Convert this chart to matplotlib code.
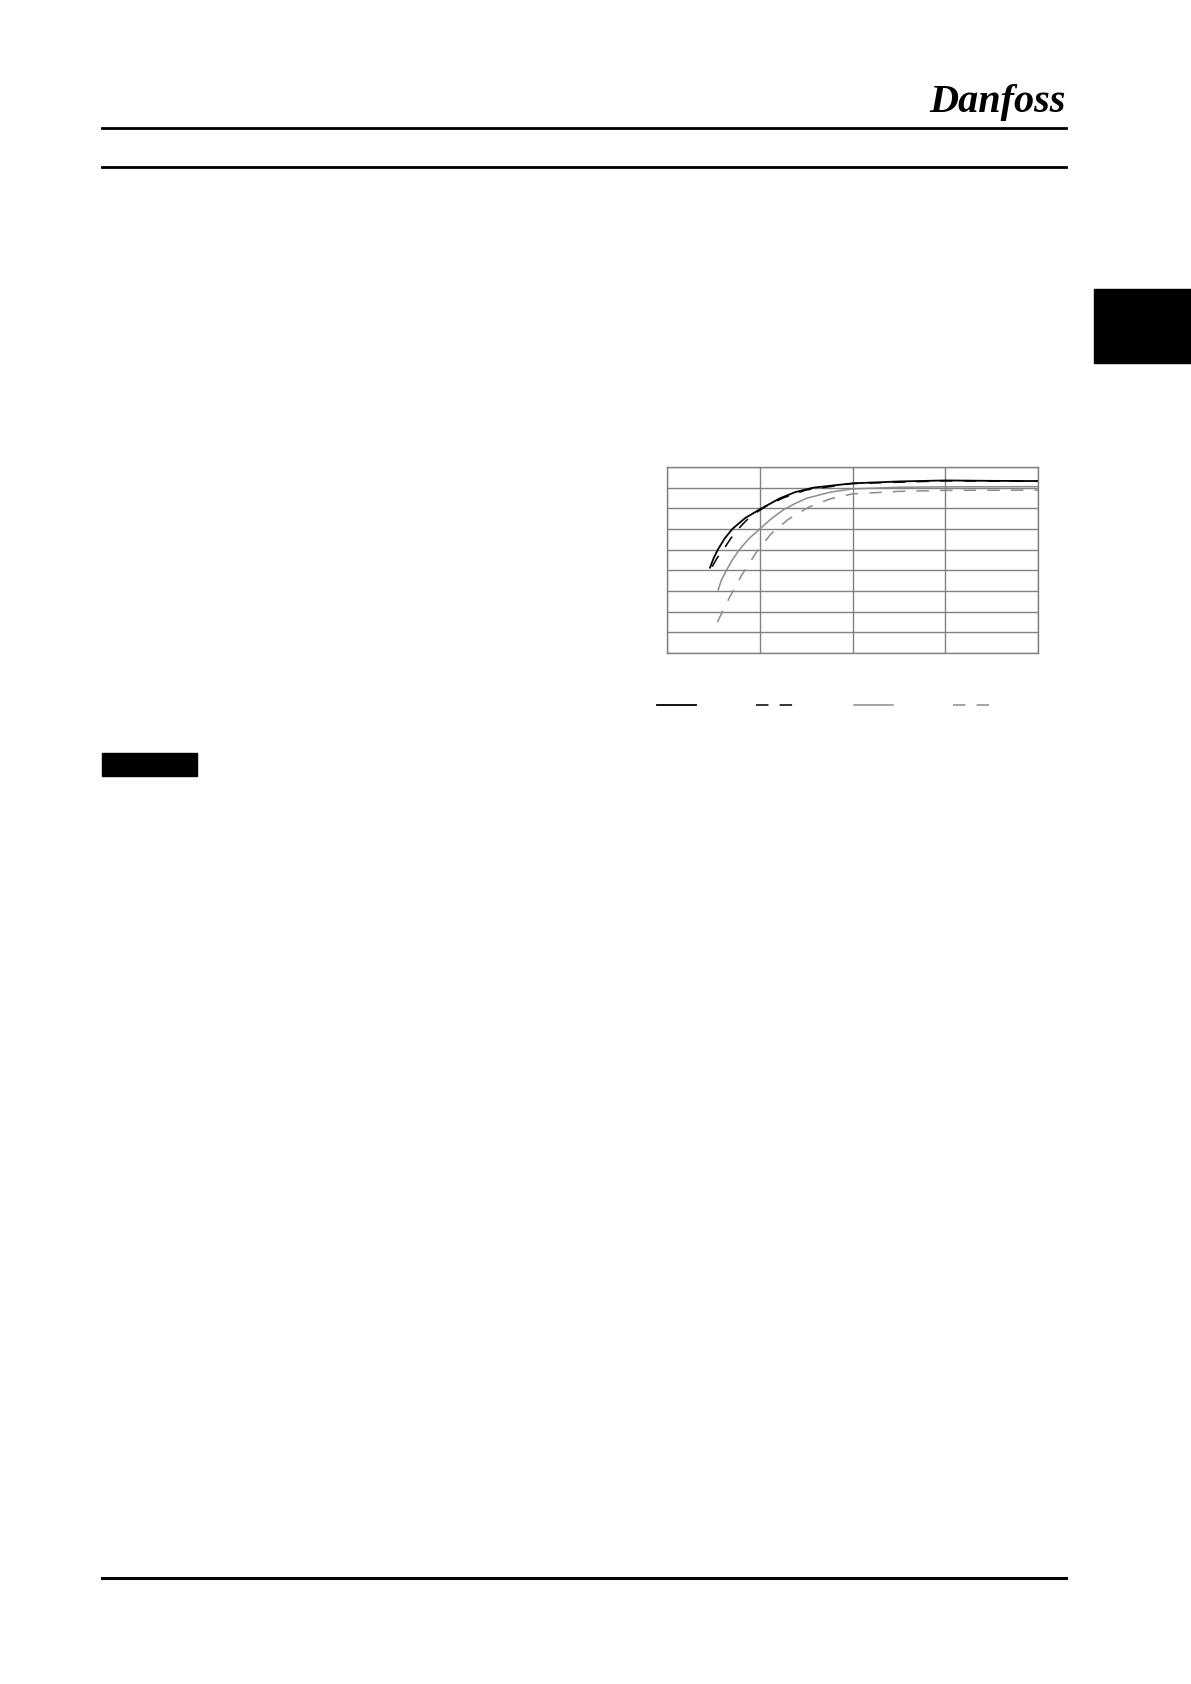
import matplotlib
matplotlib.use('Agg')
import matplotlib.pyplot as plt
from matplotlib.lines import Line2D
from matplotlib.patches import Rectangle

# page size in pixels (dpi 100)
W, H = 1191, 1684

# curve data (x = speed %, y = efficiency %)
black_solid_x = [11.6, 12.6, 13.7, 15.5, 17.6, 21.0, 25.0, 30.5, 34.5, 39.4, 50.0, 62.5, 75.0, 87.5, 100.0]
black_solid_y = [51.3, 56.0, 60.0, 65.3, 70.0, 75.2, 79.5, 84.9, 87.8, 90.0, 92.1, 93.0, 93.5, 93.3, 93.2]

black_dash_x = [12.2, 13.5, 15.2, 17.1, 19.2, 21.3, 23.5, 26.5, 31.25, 37.5, 50.0, 75.0, 100.0]
black_dash_y = [51.8, 56.0, 60.0, 65.2, 70.0, 74.0, 77.3, 80.8, 85.0, 88.9, 92.0, 93.3, 93.1]

gray_solid_x = [13.8, 14.6, 16.0, 17.6, 19.5, 22.0, 25.0, 28.0, 31.3, 34.5, 37.7, 43.9, 50.0, 62.5, 75.0, 100.0]
gray_solid_y = [40.5, 45.0, 50.0, 55.0, 60.0, 65.2, 70.0, 74.8, 79.2, 82.3, 84.9, 87.8, 89.4, 90.2, 90.4, 90.5]

gray_dash_x = [13.6, 16.3, 19.9, 24.2, 28.0, 32.7, 38.1, 44.0, 50.0, 62.5, 75.0, 100.0]
gray_dash_y = [25.0, 35.0, 47.0, 59.0, 67.6, 74.7, 80.5, 84.6, 87.0, 88.2, 88.7, 88.8]

x_ticks = [0, 25, 50, 75, 100]
y_ticks = [10, 20, 30, 40, 50, 60, 70, 80, 90, 100]

plt.rcParams['lines.scale_dashes'] = False

fig = plt.figure(figsize=(W / 100, H / 100), dpi=100)
fig.patch.set_facecolor('white')


def fx(px):
        return px / W


def fy(py):
        return 1 - py / H


# page header / footer rules
for y in [128, 167]:
        fig.add_artist(Line2D([fx(102), fx(1066)], [fy(y), fy(y)], color='black', lw=2.0))
fig.add_artist(Line2D([fx(102), fx(1066)], [fy(1578), fy(1578)], color='black', lw=2.2))

# logo
fig.text(fx(1066), fy(112), 'Danfoss', ha='right', va='baseline', fontsize=29,
         family='Liberation Serif', fontstyle='italic', fontweight='bold')

# chapter tab on the right edge and the black label box
fig.add_artist(Rectangle((fx(1094), fy(363)), fx(97), 74 / H, color='black'))
fig.add_artist(Rectangle((fx(102), fy(776)), fx(95), 23 / H, color='black'))

# chart
ax = fig.add_axes([fx(667), fy(653), fx(371), 186 / H])
grid_col = '#808080'
curve_gray = '#8c8c8c'
ax.plot(gray_solid_x, gray_solid_y, color=curve_gray, lw=1.1, label=' ')
ax.plot(gray_dash_x, gray_dash_y, color=curve_gray, lw=1.1, dashes=(9, 8), label=' ')
ax.plot(black_dash_x, black_dash_y, color='black', lw=1.1, dashes=(9, 8), label=' ')
ax.plot(black_solid_x, black_solid_y, color='black', lw=1.3, label=' ')

ax.set_xlim(0, 100)
ax.set_ylim(10, 100)
ax.set_xticks(x_ticks)
ax.set_yticks(y_ticks)
ax.grid(True, color=grid_col, lw=1.0)
ax.set_axisbelow(True)
ax.tick_params(length=0, labelbottom=False, labelleft=False)
for s in ax.spines.values():
        s.set_color(grid_col)
        s.set_linewidth(1.0)

# legend row under the chart (text removed in the reference)
h = ax.get_legend_handles_labels()[0]
order = [h[3], h[2], h[0], h[1]]
ax.legend(order, ['', '', '', ''], ncol=4, frameon=False, loc='center left',
          bbox_to_anchor=(-10 / 371, -53 / 186), borderpad=0, borderaxespad=0,
          handlelength=2.8, handletextpad=0, columnspacing=4.3, fontsize=10)

fig.savefig('out.png', dpi=100)
